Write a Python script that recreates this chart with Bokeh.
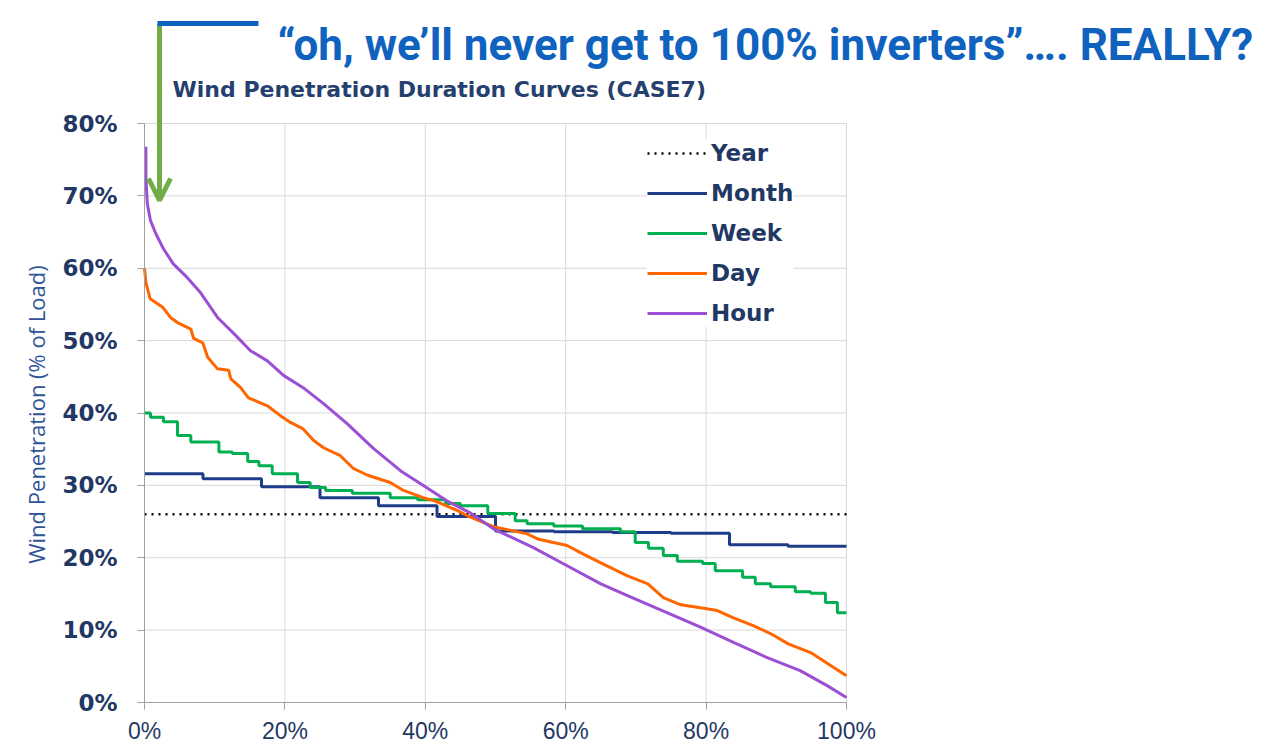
import math
from bokeh.plotting import figure
from bokeh.models import (FixedTicker, NumeralTickFormatter, Label, Arrow, OpenHead,
                          Legend, LegendItem, Range1d)
from bokeh.embed import file_html
from bokeh.resources import INLINE

# ---------------- data ----------------
year_value = 0.26

month_x = [0, 0.0833, 0.1667, 0.25, 0.3333, 0.4167, 0.5, 0.5833, 0.6667, 0.75, 0.8333, 0.9167]
month_y = [0.316, 0.309, 0.298, 0.283, 0.272, 0.257, 0.237, 0.236, 0.235, 0.234, 0.218, 0.216]

week_x = [0, 0.0085, 0.027, 0.047, 0.066, 0.106, 0.125, 0.147, 0.163, 0.182, 0.218, 0.236,
          0.258, 0.296, 0.35, 0.389, 0.429, 0.45, 0.489, 0.528, 0.545, 0.583, 0.624, 0.678,
          0.699, 0.718, 0.739, 0.759, 0.795, 0.813, 0.852, 0.870, 0.892, 0.927, 0.949, 0.970, 0.987]
week_y = [0.40, 0.394, 0.388, 0.369, 0.36, 0.346, 0.344, 0.333, 0.327, 0.316, 0.304, 0.297,
          0.293, 0.289, 0.283, 0.28, 0.275, 0.272, 0.261, 0.251, 0.247, 0.244, 0.24, 0.236,
          0.221, 0.213, 0.203, 0.195, 0.192, 0.182, 0.173, 0.164, 0.16, 0.153, 0.151, 0.138, 0.124]

day_x = [0, 0.002, 0.008, 0.026, 0.037, 0.047, 0.066, 0.07, 0.083, 0.09, 0.104, 0.12, 0.123,
         0.137, 0.148, 0.175, 0.194, 0.208, 0.226, 0.241, 0.255, 0.279, 0.298, 0.318, 0.35,
         0.369, 0.397, 0.412, 0.422, 0.446, 0.46, 0.497, 0.545, 0.56, 0.602, 0.621, 0.65,
         0.688, 0.717, 0.739, 0.764, 0.792, 0.816, 0.839, 0.868, 0.896, 0.917, 0.949, 0.973, 1.0]
day_y = [0.60, 0.58, 0.558, 0.546, 0.532, 0.525, 0.516, 0.503, 0.497, 0.477, 0.461, 0.459, 0.447,
         0.435, 0.421, 0.41, 0.396, 0.387, 0.378, 0.362, 0.352, 0.341, 0.323, 0.314, 0.304,
         0.293, 0.283, 0.279, 0.275, 0.265, 0.258, 0.243, 0.233, 0.226, 0.217, 0.207, 0.193,
         0.175, 0.164, 0.145, 0.135, 0.131, 0.127, 0.117, 0.106, 0.093, 0.081, 0.069, 0.054, 0.037]

hour_x = [0.002, 0.002, 0.004, 0.0085, 0.016, 0.027, 0.041, 0.061, 0.08, 0.104, 0.127, 0.151, 0.175,
          0.198, 0.226, 0.255, 0.289, 0.326, 0.365, 0.40, 0.43, 0.464, 0.497, 0.554, 0.602,
          0.65, 0.697, 0.745, 0.792, 0.839, 0.887, 0.934, 0.973, 1.0]
hour_y = [0.768, 0.725, 0.689, 0.666, 0.648, 0.627, 0.606, 0.587, 0.566, 0.532, 0.51, 0.486, 0.472,
          0.452, 0.435, 0.413, 0.385, 0.351, 0.32, 0.298, 0.279, 0.262, 0.240, 0.214, 0.189,
          0.164, 0.144, 0.124, 0.104, 0.083, 0.062, 0.044, 0.023, 0.007]

x_ticks = [0, 0.2, 0.4, 0.6, 0.8, 1.0]
y_ticks = [0, 0.1, 0.2, 0.3, 0.4, 0.5, 0.6, 0.7, 0.8]

title_text = "\u201coh, we\u2019ll never get to 100% inverters\u201d\u2026. REALLY?"
subtitle_text = "Wind Penetration Duration Curves (CASE7)"
ylabel_text = "Wind Penetration (% of Load)"

# ---------------- geometry (pixels) ----------------
W, H = 1281, 744
X0, X1 = 144, 846      # pixel of x = 0 and x = 1
Y0, Y8 = 702, 123      # pixel of y = 0 and y = 0.8
sx = 1.0 / (X1 - X0)
sy = 0.8 / (Y0 - Y8)

def dx(px):
    return (px - X0) * sx

def dy(py):
    return (Y0 - py) * sy

p = figure(width=W, height=H,
           x_range=Range1d(dx(0), dx(W)), y_range=Range1d(dy(H), dy(0)),
           output_backend="svg", toolbar_location=None, min_border=0)
p.min_border_left = p.min_border_right = p.min_border_top = p.min_border_bottom = 0
p.outline_line_color = None
p.background_fill_color = "white"
p.border_fill_color = "white"
p.grid.visible = False

NAVY = "#1F3864"
AXIS_GRAY = "#A0A0A0"
for ax in (p.xaxis[0], p.yaxis[0]):
    ax.fixed_location = 0
    ax.axis_line_color = AXIS_GRAY
    ax.major_tick_line_color = AXIS_GRAY
    ax.major_tick_in = 0
    ax.major_tick_out = 7
    ax.minor_tick_line_color = None
    ax.major_label_text_color = NAVY
    ax.formatter = NumeralTickFormatter(format="0%")
p.xaxis.ticker = FixedTicker(ticks=x_ticks)
p.yaxis.ticker = FixedTicker(ticks=y_ticks)
p.xaxis.bounds = (0, 1)
p.yaxis.bounds = (0, 0.8)
p.yaxis.major_label_text_font = "DejaVu Sans"
p.yaxis.major_label_text_font_style = "bold"
p.yaxis.major_label_text_font_size = "23px"
p.yaxis.major_label_standoff = 20
p.xaxis.major_label_text_font = "Liberation Sans"
p.xaxis.major_label_text_font_size = "23px"
p.xaxis.major_label_standoff = 8

# gridlines from the tick lists
GRID = "#D9D9D9"
p.segment(x0=x_ticks[1:], y0=[0] * (len(x_ticks) - 1), x1=x_ticks[1:], y1=[0.8] * (len(x_ticks) - 1),
          line_color=GRID, line_width=1)
p.segment(x0=[0] * (len(y_ticks) - 1), y0=y_ticks[1:], x1=[1] * (len(y_ticks) - 1), y1=y_ticks[1:],
          line_color=GRID, line_width=1)

# ---------------- series ----------------
def step_xy(xs, ys):
    ox, oy = [], []
    edges = list(xs) + [1.0]
    for i, v in enumerate(ys):
        ox += [edges[i], edges[i + 1]]
        oy += [v, v]
    return ox, oy

r_year = p.line([0, 1], [year_value, year_value], line_color="black", line_width=2.5,
                line_dash="2 5")
mx, my = step_xy(month_x, month_y)
r_month = p.line(mx, my, line_color="#1F3C88", line_width=3)
wx, wy = step_xy(week_x, week_y)
r_week = p.line(wx, wy, line_color="#00B050", line_width=3)
r_day = p.line(day_x, day_y, line_color="#FF6600", line_width=3)
r_hour = p.line(hour_x, hour_y, line_color="#9B4FD4", line_width=3)

legend = Legend(items=[LegendItem(label="Year", renderers=[r_year]),
                       LegendItem(label="Month", renderers=[r_month]),
                       LegendItem(label="Week", renderers=[r_week]),
                       LegendItem(label="Day", renderers=[r_day]),
                       LegendItem(label="Hour", renderers=[r_hour])],
                location=(647, 417), orientation="vertical")
legend.glyph_width = 60
legend.glyph_height = 28
legend.spacing = 12
legend.padding = 5
legend.margin = 0
legend.label_standoff = 4
legend.label_text_font = "DejaVu Sans"
legend.label_text_font_style = "bold"
legend.label_text_font_size = "23px"
legend.label_text_color = NAVY
legend.border_line_color = None
legend.background_fill_color = "white"
legend.background_fill_alpha = 1
p.add_layout(legend)

# ---------------- annotations ----------------
p.add_layout(Label(x=dx(277), y=dy(44), text=title_text, text_font="Roboto",
                   text_font_style="bold", text_font_size="44px", text_color="#0F62BE",
                   text_baseline="alphabetic"))
p.add_layout(Label(x=dx(172), y=dy(89), text=subtitle_text, text_font="DejaVu Sans",
                   text_font_style="bold", text_font_size="22px", text_color="#253F6E",
                   text_baseline="alphabetic"))
p.add_layout(Label(x=dx(35), y=dy(414), text=ylabel_text, text_font="Open Sans",
                   text_font_size="22px", text_color="#2F5597", angle=math.pi / 2,
                   text_align="center", text_baseline="middle"))

GREEN = "#70AD47"
p.add_layout(Arrow(x_start=dx(159), y_start=dy(23), x_end=dx(159), y_end=dy(200),
                   line_color=GREEN, line_width=5,
                   end=OpenHead(size=22, line_width=5, line_color=GREEN)))
p.add_layout(Arrow(x_start=dx(157), y_start=dy(23), x_end=dx(258), y_end=dy(23),
                   line_color="#0F62BE", line_width=5, end=None))

open("out.html", "w").write(file_html(p, INLINE))
